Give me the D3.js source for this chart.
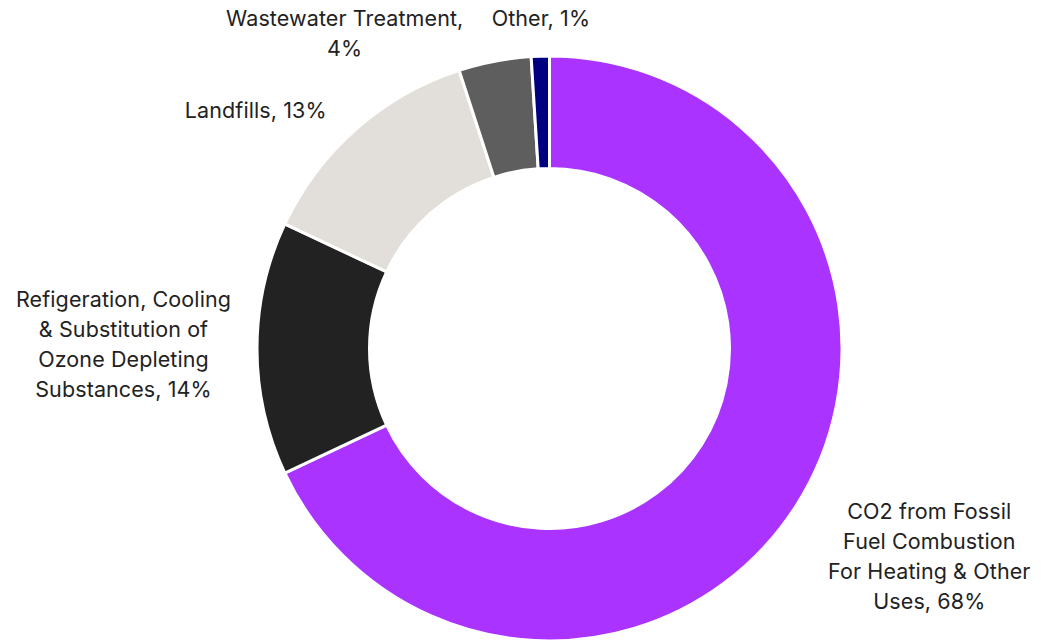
<!DOCTYPE html>
<html>
<head>
<meta charset="utf-8">
<script src="https://cdn.jsdelivr.net/npm/d3@7"></script>
<style>
  html, body { margin: 0; padding: 0; background: #fff; }
  svg { display: block; }
  .label { font-family: Inter, "Noto Sans", sans-serif; font-size: 21.5px; fill: #222; letter-spacing: 0.1px; }
</style>
</head>
<body>
<svg id="chart" width="1041" height="642"></svg>
<script>
// Emission sources and their share of the total (percent)
const categories = [
  "CO2 from Fossil Fuel Combustion For Heating & Other Uses",
  "Refigeration, Cooling & Substitution of Ozone Depleting Substances",
  "Landfills",
  "Wastewater Treatment",
  "Other"
];
const shares = [68, 14, 13, 4, 1];
const colors = ["#aa33ff", "#222222", "#e2dfda", "#5e5e5e", "#000080"];

// Label text broken into lines
const labelLines = [
  ["CO2 from Fossil", "Fuel Combustion", "For Heating & Other", "Uses, 68%"],
  ["Refigeration, Cooling", "& Substitution of", "Ozone Depleting", "Substances, 14%"],
  ["Landfills, 13%"],
  ["Wastewater Treatment,", "4%"],
  ["Other, 1%"]
];
// Label placement: distance from the centre and angle (degrees, clockwise from 12 o'clock)
const labelRadius = [433, 426, 378, 376, 330];
const labelAngle = [118.7, 270.5, 309, 327, 358.5];

const width = 1041, height = 642;
const cx = 549.5, cy = 348.5;
const outerR = 292.5, innerR = 180;
const lineHeight = 30;

const svg = d3.select("#chart");
const g = svg.append("g").attr("transform", `translate(${cx},${cy})`);

const data = categories.map((c, i) => ({ name: c, value: shares[i], color: colors[i], lines: labelLines[i] }));

const pie = d3.pie().value(d => d.value).sort(null);
const arc = d3.arc().innerRadius(innerR).outerRadius(outerR);

g.selectAll("path.slice")
  .data(pie(data))
  .join("path")
  .attr("class", "slice")
  .attr("d", arc)
  .attr("fill", d => d.data.color)
  .attr("stroke", "#fff")
  .attr("stroke-width", 3)
  .attr("stroke-linejoin", "miter");

const labels = g.selectAll("text.label")
  .data(data)
  .join("text")
  .attr("class", "label")
  .attr("text-anchor", "middle")
  .attr("transform", (d, i) => {
    const a = labelAngle[i] * Math.PI / 180;
    const x = labelRadius[i] * Math.sin(a);
    const y = -labelRadius[i] * Math.cos(a);
    return `translate(${x},${y})`;
  });

labels.each(function(d) {
  const n = d.lines.length;
  const t = d3.select(this);
  d.lines.forEach((line, j) => {
    t.append("tspan")
      .attr("x", 0)
      .attr("y", (j - (n - 1) / 2) * lineHeight)
      .attr("dy", "0.35em")
      .text(line);
  });
});
</script>
</body>
</html>
